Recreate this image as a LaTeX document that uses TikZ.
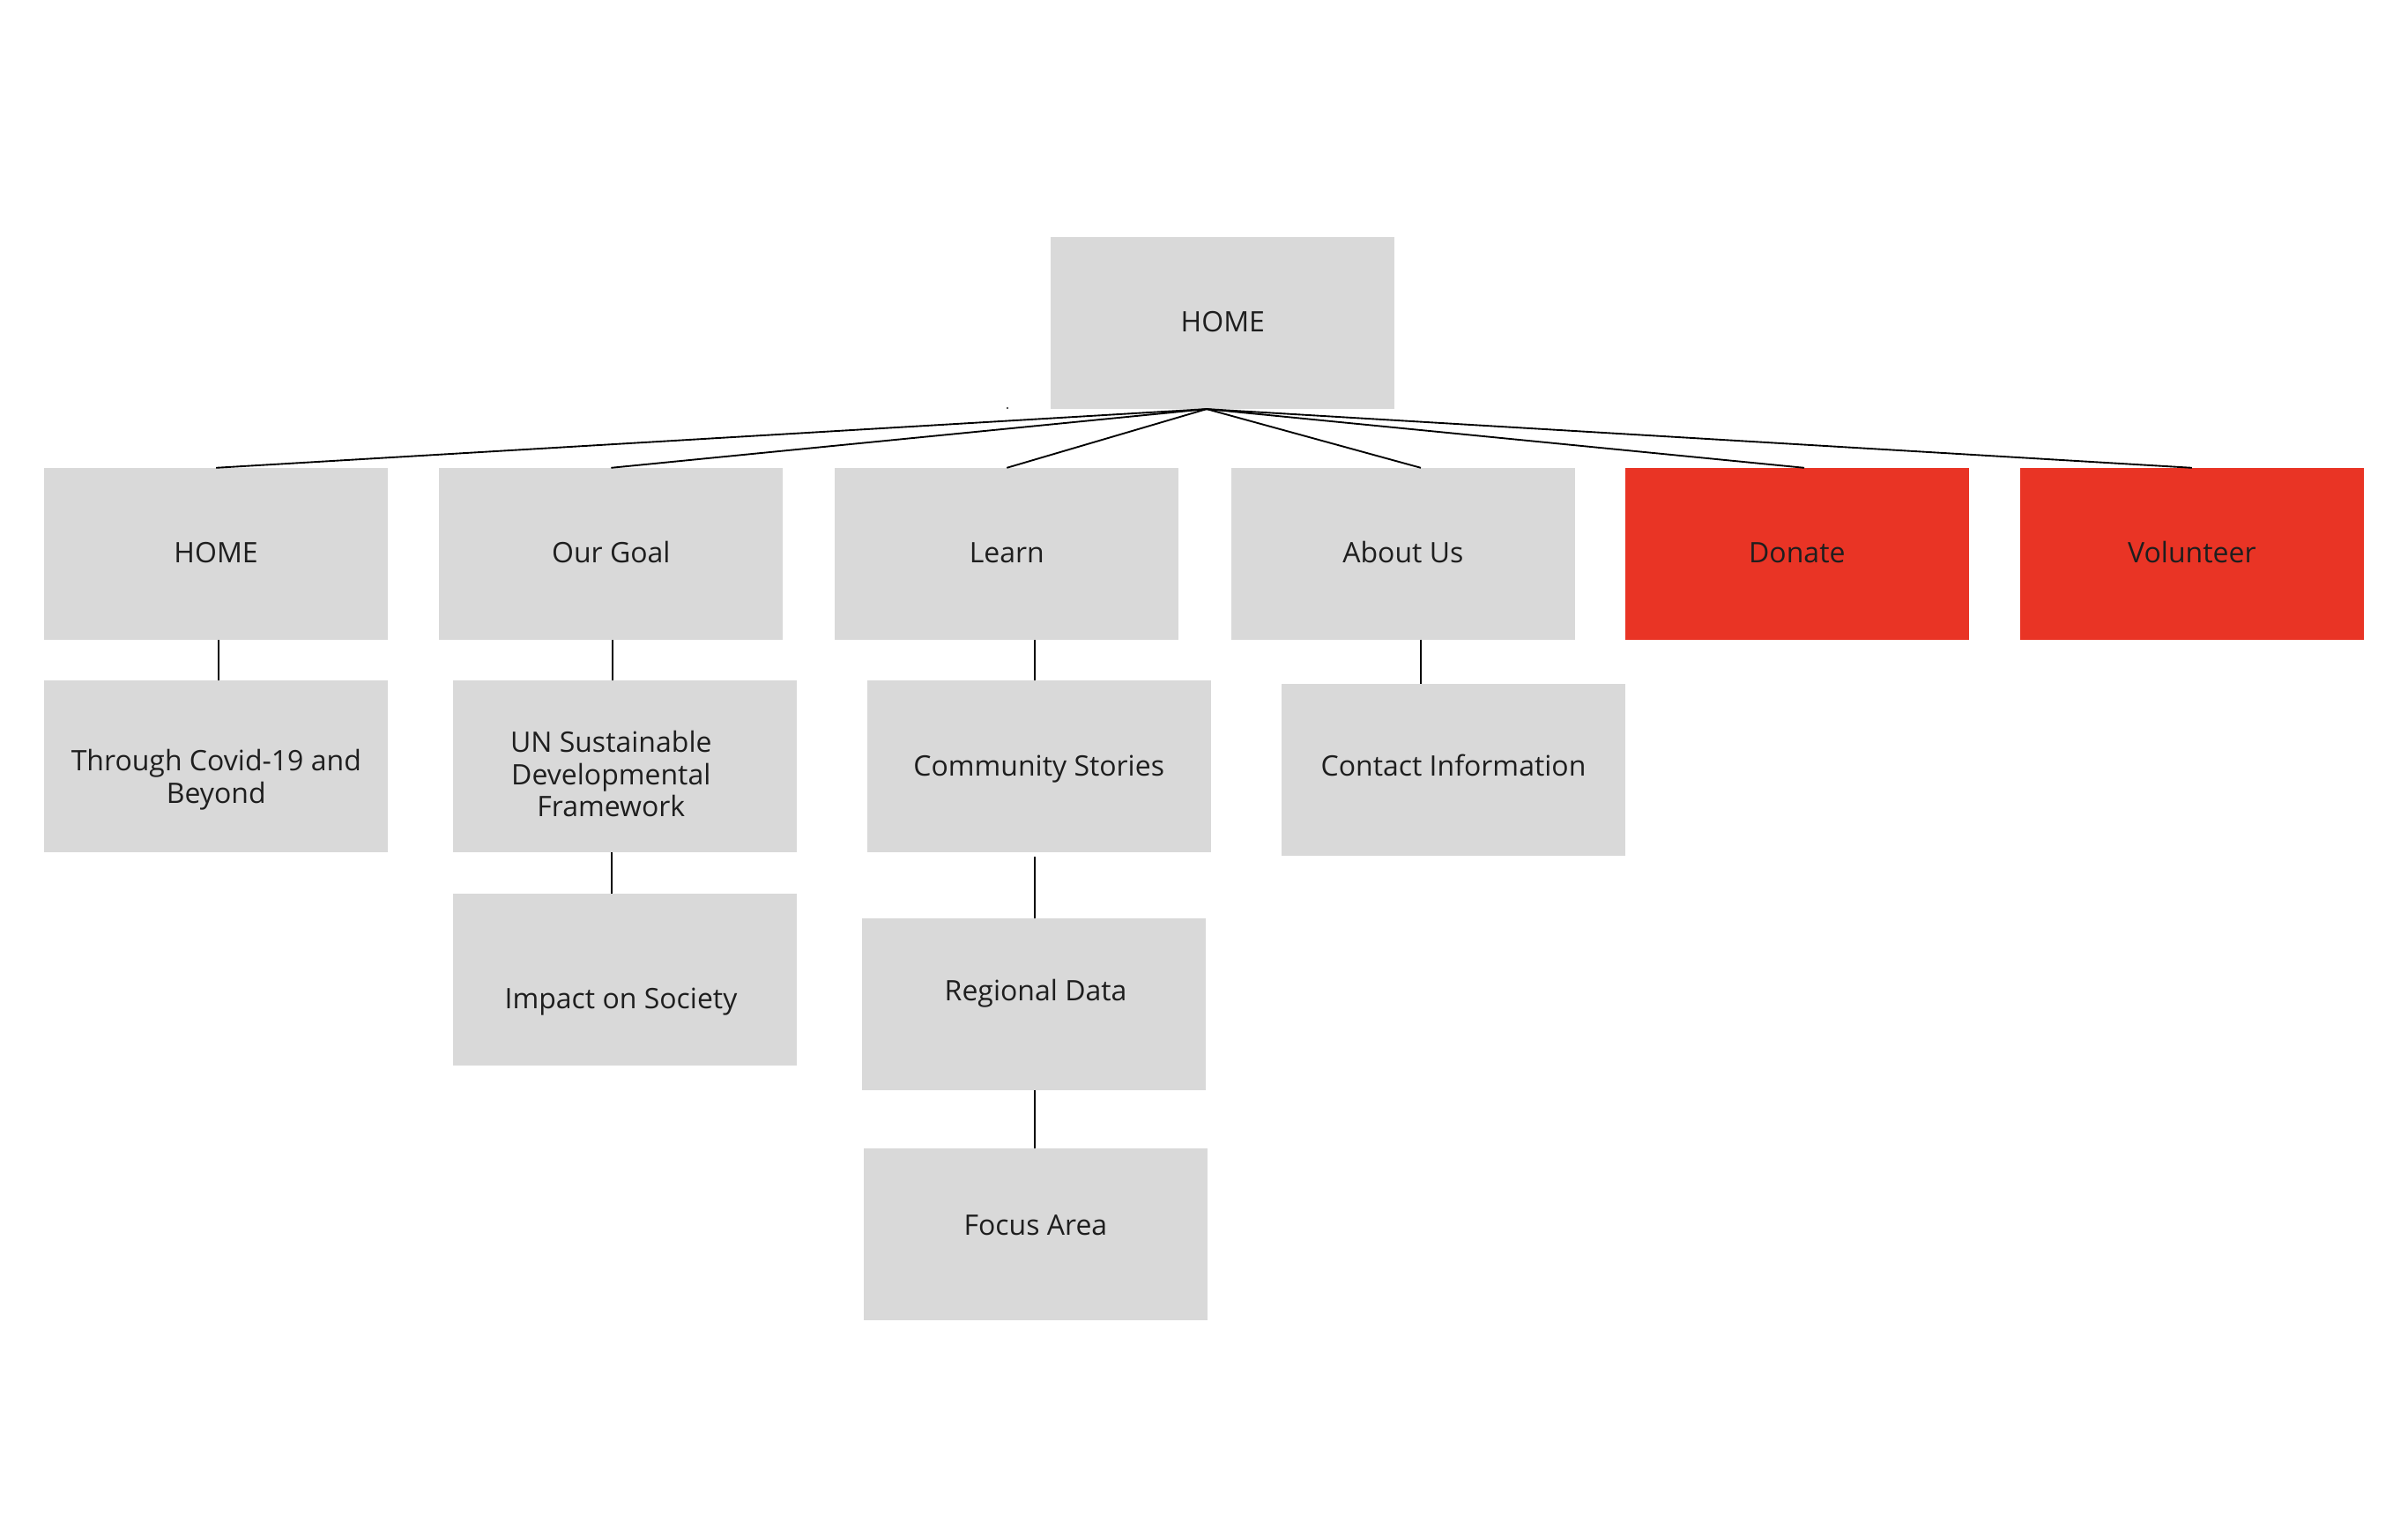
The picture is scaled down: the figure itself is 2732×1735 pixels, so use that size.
\documentclass[tikz,border=0pt]{standalone}
\usepackage{fontspec}
\setmainfont{Open Sans}
\usetikzlibrary{calc}
\definecolor{boxgray}{HTML}{D9D9D9}
\definecolor{boxred}{HTML}{E93425}
\definecolor{inkc}{HTML}{1E1E1E}
\begin{document}
\begin{tikzpicture}[x=0.4pt,y=-0.4pt,
  box/.style={fill=boxgray,draw=none,minimum width=156pt,minimum height=78pt,inner sep=0pt,outer sep=0pt},
  redbox/.style={box,fill=boxred},
  lbl/.style={text=inkc,align=center,inner sep=0pt,font=\fontsize{12.8}{14.76}\selectfont},
  lblb/.style={lbl,anchor=base},
  link/.style={draw=black,line width=0.75pt}]
\useasboundingbox (0,0) rectangle (2732,1735);
\fill[white] (0,0) rectangle (2732,1735);

% boxes
\node[box] (top) at (1387.3,366.6) {};
\node[box] (home1) at (245.1,628.3) {};
\node[box] (goal) at (693.3,628.3) {};
\node[box] (learn) at (1142.3,628.3) {};
\node[box] (about) at (1591.8,628.3) {};
\node[redbox] (donate) at (2038.8,628.3) {};
\node[redbox] (volunteer) at (2486.9,628.3) {};
\node[box] (covid) at (245.1,869.6) {};
\node[box] (un) at (709,869.6) {};
\node[box] (comm) at (1178.7,869.6) {};
\node[box] (contact) at (1649,873.7) {};
\node[box] (impact) at (709,1111.9) {};
\node[box] (regional) at (1173.2,1139.2) {};
\node[box] (focus) at (1174.9,1400) {};

% labels
\node[lblb] (ttop) at ($(top.center)+(0,10.1)$) {HOME};
\node[lblb] (thome1) at ($(home1.center)+(0,9.9)$) {HOME};
\node[lblb] (tgoal) at ($(goal.center)+(0,9.9)$) {Our Goal};
\node[lblb] (tlearn) at ($(learn.center)+(0,9.9)$) {Learn};
\node[lblb] (tabout) at ($(about.center)+(0,9.9)$) {About Us};
\node[lblb] (tdonate) at ($(donate.center)+(0,9.9)$) {Donate};
\node[lblb] (tvolunteer) at ($(volunteer.center)+(0,9.9)$) {Volunteer};
\node[lbl] (tcovid) at (245.3,884.8) {Through Covid-19 and\\Beyond};
\node[lbl] (tun) at (693.3,878) {UN Sustainable\\Developmental\\Framework};
\node[lblb] (tcomm) at ($(comm.center)+(0,11.2)$) {Community Stories};
\node[lblb] (tcontact) at ($(contact.center)+(0,7.1)$) {Contact Information};
\node[lblb] (timpact) at ($(impact.center)+(-4.5,33)$) {Impact on Society};
\node[lblb] (tregional) at ($(regional.center)+(1.9,-3.9)$) {Regional Data};
\node[lblb] (tfocus) at ($(focus.center)+(0,1.3)$) {Focus Area};

% connectors from top
\coordinate (apex) at ($(top.south)+(-18.3,0)$);
\draw[link] (apex) -- (home1.north);
\draw[link] (apex) -- (goal.north);
\draw[link] (apex) -- (learn.north);
\draw[link] (apex) -- ($(about.north)+(20.2,0)$);
\draw[link] (apex) -- ($(donate.north)+(8.2,0)$);
\draw[link] (apex) -- (volunteer.north);

% vertical connectors
\coordinate (h1) at ($(home1.south)+(3,0)$);
\draw[link] (h1) -- (h1 |- covid.north);
\coordinate (g1) at ($(goal.south)+(1.3,0)$);
\draw[link] (g1) -- (g1 |- un.north);
\coordinate (c1) at ($(comm.north)+(-4.7,0)$);
\draw[link] (c1 |- learn.south) -- (c1);
\coordinate (a1) at ($(about.south)+(20.2,0)$);
\draw[link] (a1) -- (a1 |- contact.north);
\coordinate (u1) at ($(un.south)+(-14.9,0)$);
\draw[link] (u1) -- (u1 |- impact.north);
\coordinate (c2) at ($(comm.south)+(-4.7,4.7)$);
\draw[link] (c2) -- (c2 |- regional.north);
\coordinate (r1) at ($(regional.south)+(0.8,0)$);
\draw[link] (r1) -- (r1 |- focus.north);

% stray dot
\fill[inkc] (1143,463) circle (1.2);
\end{tikzpicture}
\end{document}
